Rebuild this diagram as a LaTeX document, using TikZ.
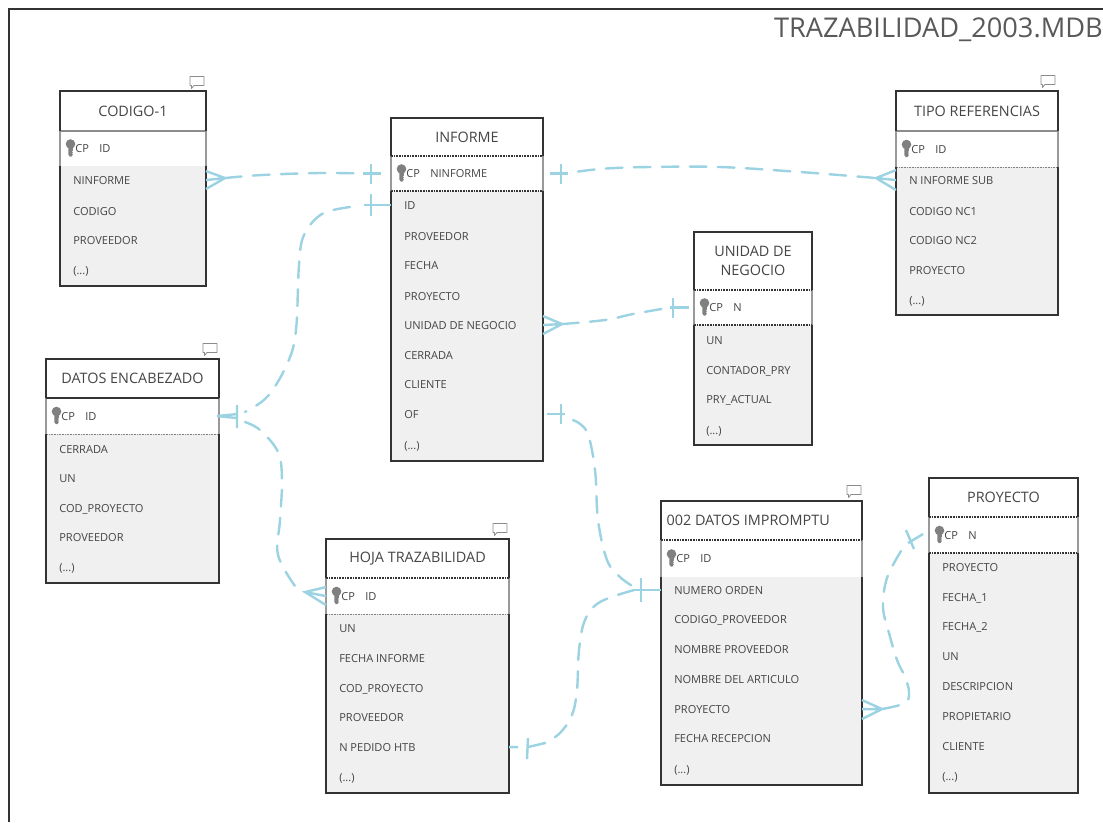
\documentclass[tikz,border=0pt]{standalone}
\usepackage{fontspec}
\setmainfont{Open Sans}
\usetikzlibrary{calc}
\definecolor{tgray}{HTML}{F0F0F0}
\definecolor{tline}{HTML}{333333}
\definecolor{ttext}{HTML}{454545}
\definecolor{conncol}{HTML}{9CD3E2}
\definecolor{keycol}{HTML}{808080}
\tikzset{
  x=0.75pt,y=-0.75pt,
  tarea/.style n args={4}{inner sep=0pt,outer sep=0pt,minimum width={(#2-#1)*0.75pt},minimum height={(#4-#3)*0.75pt},at={({(#1+#2)/2},{(#3+#4)/2})}},
  fieldtext/.style={font=\fontsize{8.3}{10}\selectfont,text=ttext,inner sep=0pt,anchor=base west},
  titletext/.style={font=\fontsize{10.8}{14}\selectfont,text=ttext,inner sep=0pt,align=center},
  connsolid/.style={draw=conncol,line width=1.8pt},
  conndash/.style={draw=conncol,line width=1.8pt,dash pattern=on 12.5pt off 8.5pt,line cap=round},
  sepgray/.style={draw=black!45,line width=1pt},
  sepdark/.style={draw=tline,line width=.9pt},
  sepdot/.style={draw=tline,line width=.8pt,dash pattern=on 1.2pt off .8pt},
  septhin/.style={draw=black!50,line width=.6pt,dash pattern=on 1.2pt off .8pt},
  sepnone/.style={draw=none},
  hsep/.style={sepdot},
  ksep/.style={sepdot},
}
\newcommand{\etc}{(...)}
\newcommand{\keyname}{}
% name, x1, x2, y1, yHeader, yKey, y2, title, key name x offset
\newcommand{\erdtable}[9]{%
  \node[tarea={#2}{#3}{#4}{#7},fill=tgray] (#1B) {};
  \node[tarea={#2}{#3}{#4}{#5},fill=white] (#1H) {};
  \node[tarea={#2}{#3}{#5}{#6},fill=white] (#1R) {};
  \draw[draw=black!40,line width=.9pt] (#1R.north west) -- (#1R.south west) (#1R.north east) -- (#1R.south east);
  \draw[hsep] (#1H.south west) -- (#1H.south east);
  \draw[ksep] (#1R.south west) -- (#1R.south east);
  \draw[draw=tline,line width=1pt] (#1R.north west) -- (#1H.north west) -- (#1H.north east) -- (#1R.north east)
     (#1R.south west) -- (#1B.south west) -- (#1B.south east) -- (#1R.south east);
  \node[titletext] (#1N) at (#1H.center) {#8};
  \fill[keycol] ($(#1R.west)+(10.5,-4.5)$) circle (4.8);
  \fill[keycol] ($(#1R.west)+(8.3,-3)$) -- ++(4.6,0) -- ++(0,5) -- ++(-1,1) -- ++(1,1) -- ++(-1,1) -- ++(1,1) -- ++(-1.5,2) -- ++(-1.6,0) -- ++(-1.5,-2) -- cycle;
  \node[fieldtext] (#1C) at ($(#1R.west)+(15,4)$) {CP};
  \node[fieldtext] (#1K) at ($(#1R.west)+(#9,4)$) {\keyname};
}
\newcommand{\erdfields}[3]{%
  \foreach \yy/\ftext [count=\i] in {#3}
    \node[fieldtext] (#1F\i) at (#2,\yy+4) {\ftext};
}
\newcommand{\bubble}[2]{%
  \draw[draw=gray!90,line width=.6pt,fill=white,line join=round] ($(#1,#2)+(-7,-5.5)$) -- ++(14,0) -- ++(0,9) -- ++(-10,0) -- ++(-2.5,3) -- ++(0,-3) -- ++(-1.5,0) -- cycle;
}
% coordinate, apex dx, apex dy, half spread
\newcommand{\crow}[4]{%
  \draw[connsolid] ($(#1)+(0,-#4)$) -- ($(#1)+(#2,#3)$) -- ($(#1)+(0,#4)$) (#1) -- ($(#1)+(#2,#3)$);
}
% coordinate, bar dx, half length, stub from dx, stub to dx
\newcommand{\ftbar}[5]{%
  \draw[connsolid] ($(#1)+(#4,0)$) -- ($(#1)+(#5,0)$) ($(#1)+(#2,-#3)$) -- ($(#1)+(#2,#3)$);
}
\begin{document}
\begin{tikzpicture}
\useasboundingbox (0,0) rectangle (1103,822);
\fill[white] (0,0) rectangle (1103,822);
\coordinate (frameA) at (9,822);
\coordinate (frameB) at (9,9);
\coordinate (frameC) at (1103,9);
\draw[draw=black!80,line width=.8pt] (frameA) -- (frameB) -- (frameC);
\node[anchor=east,inner sep=0pt,text=black!65,font=\fontsize{20.4}{22}\selectfont] (title) at (1103,30) {TRAZABILIDAD\_2003.MDB};

\renewcommand{\keyname}{ID}
\tikzset{hsep/.style={sepgray},ksep/.style={sepnone}}
\erdtable{cod}{60}{206}{91}{131}{166}{286}{CODIGO-1}{39}
\erdfields{cod}{73}{180/NINFORME,211/CODIGO,240/PROVEEDOR,270/\etc}
\renewcommand{\keyname}{NINFORME}
\tikzset{hsep/.style={sepdot},ksep/.style={sepdot}}
\erdtable{inf}{391}{543}{118}{156}{191}{461}{INFORME}{39}
\erdfields{inf}{404}{205/ID,236/PROVEEDOR,265/FECHA,296/PROYECTO,325/UNIDAD DE NEGOCIO,355/CERRADA,384/CLIENTE,414/OF,445/\etc}
\renewcommand{\keyname}{ID}
\tikzset{hsep/.style={sepgray},ksep/.style={septhin}}
\erdtable{tip}{896}{1058}{91}{131}{167}{315}{TIPO REFERENCIAS}{39}
\erdfields{tip}{909}{180/N INFORME SUB,211/CODIGO NC1,240/CODIGO NC2,270/PROYECTO,300/\etc}
\renewcommand{\keyname}{N}
\tikzset{hsep/.style={sepdot},ksep/.style={sepdot}}
\erdtable{uni}{694}{812}{232}{290}{325}{445}{UNIDAD DE\\NEGOCIO}{39}
\erdfields{uni}{706}{340/UN,370/CONTADOR\_PRY,399/PRY\_ACTUAL,430/\etc}
\renewcommand{\keyname}{ID}
\tikzset{hsep/.style={sepdark},ksep/.style={septhin}}
\erdtable{dat}{46}{219}{359}{398}{434}{583}{DATOS ENCABEZADO}{39}
\erdfields{dat}{59}{449/CERRADA,478/UN,508/COD\_PROYECTO,537/PROVEEDOR,567/\etc}
\tikzset{hsep/.style={sepdot},ksep/.style={septhin}}
\erdtable{hoj}{326}{509}{539}{578}{614}{793}{HOJA TRAZABILIDAD}{39}
\erdfields{hoj}{339}{628/UN,658/FECHA INFORME,688/COD\_PROYECTO,717/PROVEEDOR,747/N PEDIDO HTB,777/\etc}
\tikzset{hsep/.style={sepdot},ksep/.style={sepnone}}
\erdtable{imp}{661}{862}{501}{540}{577}{785}{002 DATOS IMPROMPTU\hspace*{20pt}}{39}
\erdfields{imp}{674}{590/NUMERO ORDEN,619/CODIGO\_PROVEEDOR,649/NOMBRE PROVEEDOR,679/NOMBRE DEL ARTICULO,709/PROYECTO,738/FECHA RECEPCION,769/\etc}
\renewcommand{\keyname}{N}
\tikzset{hsep/.style={sepdot},ksep/.style={sepdot}}
\erdtable{pro}{929}{1078}{478}{517}{553}{793}{PROYECTO}{39}
\erdfields{pro}{942}{567/PROYECTO,597/FECHA\_1,626/FECHA\_2,656/UN,686/DESCRIPCION,716/PROPIETARIO,746/CLIENTE,776/\etc}

\bubble{197}{82}
\bubble{1048}{81}
\bubble{210}{349}
\bubble{500}{529}
\bubble{854}{491}

% connector end points
\coordinate (a1) at (codB.east |- codF1);
\coordinate (a2) at (infB.west |- infK);
\coordinate (b1) at (infB.west |- infF1);
\coordinate (b2) at (datB.east |- datK);
\coordinate (c2) at (hojB.west |- hojK);
\coordinate (d1) at (infB.east |- infK);
\coordinate (d2) at (tipB.west |- tipF1);
\coordinate (e1) at (infB.east |- infF5);
\coordinate (e2) at (uniB.west |- uniK);
\coordinate (f1) at (infB.east |- infF8);
\coordinate (f2) at (impB.west |- impF1);
\coordinate (g1) at (hojB.east |- hojF5);
\coordinate (h1) at (proB.west |- proK);
\coordinate (h2) at (impB.east |- impF5);

% CODIGO-1 -- INFORME
\crow{a1}{19}{-2}{9}
\ftbar{a2}{-20}{10}{-28}{-10}
\draw[conndash] plot[smooth,tension=.6] coordinates {($(a1)+(19,-2)$) (262,175) (320,173) ($(a2)+(-28,0)$)};
% INFORME ID -- DATOS ENCABEZADO
\ftbar{b1}{-20}{11}{-27}{0}
\draw[conndash] plot[smooth,tension=.6] coordinates {($(b1)+(-41,2)$) (322,214) (304,235) (299,265) (296,330) (288,362) (268,396) (245,412)};
\draw[connsolid] ($(b2)+(-2,0)$) -- ($(b2)+(18,-2)$) ($(b2)+(-2,0)$) -- ($(b2)+(18,2)$) ($(b2)+(18,-11)$) -- ($(b2)+(18,12)$);
% DATOS ENCABEZADO -- HOJA TRAZABILIDAD
\draw[conndash] plot[smooth,tension=.6] coordinates {($(b2)+(26,6)$) (260,430) (278,452) (282,480) (280,520) (278,555) (295,586)};
\crow{c2}{-21}{-4}{9}
% INFORME -- TIPO REFERENCIAS
\ftbar{d1}{18}{10}{7}{25}
\crow{d2}{-20}{-2}{10}
\draw[conndash] plot[smooth,tension=.6] coordinates {($(d1)+(35,-2)$) (606,168.5) (650,167) (720,167) (800,172) ($(d2)+(-20,-2)$)};
% INFORME UNIDAD -- UNIDAD DE NEGOCIO
\crow{e1}{19}{-1}{9}
\ftbar{e2}{-21}{10}{-24}{-5}
\draw[conndash] plot[smooth,tension=.6] coordinates {($(e1)+(19,-1)$) (605,320) (633,314) ($(e2)+(-24,0)$)};
% INFORME OF -- 002
\ftbar{f1}{18}{10}{4}{22}
\ftbar{f2}{-20}{12}{-20}{0}
\draw[conndash] plot[smooth,tension=.6] coordinates {($(f1)+(30,6)$) (587,432) (595,470) (598,520) (607,560) (620,577) ($(f2)+(-27,-3)$)};
% HOJA N PEDIDO -- 002
\draw[connsolid] (g1) -- ($(g1)+(9,0)$) ($(g1)+(19,-9)$) -- ($(g1)+(18,12)$) ($(g1)+(19,0)$) -- ($(g1)+(36,-4)$);
\draw[conndash] plot[smooth,tension=.6] coordinates {($(f2)+(-27,0)$) (600,602) (585,620) (579,650) (577,690) (572,715) (560,733) ($(g1)+(36,-4)$)};
\draw[connsolid] ($(f2)+(-27,0)$) -- ($(f2)+(-20,0)$);
% PROYECTO -- 002 PROYECTO
\draw[connsolid] ($(h1)+(-6,-1)$) -- ($(h1)+(-21,8)$) ($(h1)+(-23,-5)$) -- ($(h1)+(-15,14)$);
\draw[connsolid] ($(h2)+(0,-9)$) -- ($(h2)+(20,0)$) -- ($(h2)+(0,10)$) (h2) -- ($(h2)+(20,0)$);
\draw[conndash] plot[smooth,tension=.6] coordinates {($(h1)+(-28,16)$) (887,578) (883,607) (889,633) (897,660) (905,677) (909,692) (905,703) ($(h2)+(20,0)$)};
\end{tikzpicture}
\end{document}
